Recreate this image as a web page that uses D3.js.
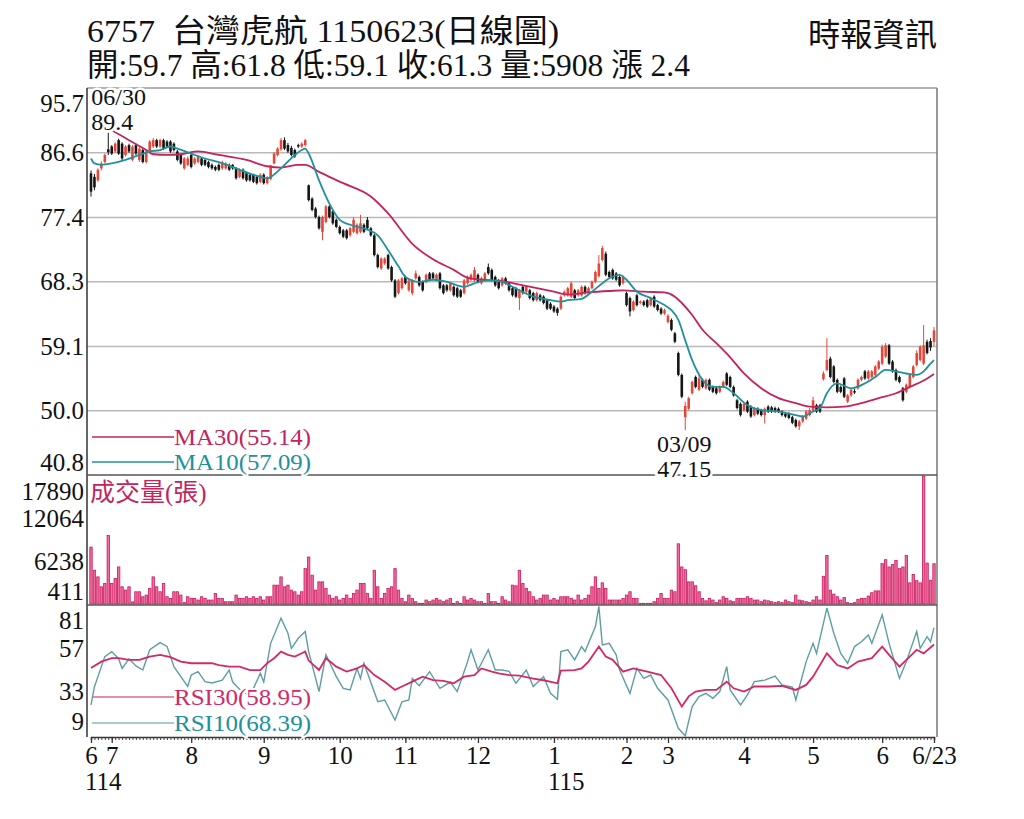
<!DOCTYPE html>
<html>
<head>
<meta charset="utf-8">
<script src="https://cdn.jsdelivr.net/npm/d3@7"></script>
<style>
body { margin: 0; background: #fff; }
text { font-family: "Liberation Serif", "Noto Sans CJK TC", serif; }
</style>
</head>
<body>
<div id="chart"></div>
<script>
// daily candles, 114/06/23 .. 115/06/23  [open, high, low, close]
const candles = [
	[83.6,84.0,80.3,81.0],[83.1,83.5,81.2,81.6],[82.6,84.3,82.4,84.1],[84.3,85.3,84.0,85.0],[85.2,86.4,85.0,86.2],
	[87.0,89.4,86.2,86.6],[87.4,87.6,86.2,86.4],[86.7,88.0,86.5,87.8],[88.3,88.5,86.2,86.4],[87.8,88.0,85.4,85.7],
	[86.2,87.6,86.0,87.4],[87.6,87.8,86.5,86.7],[85.5,87.6,85.3,87.4],[87.6,87.8,86.2,86.4],[85.5,87.3,85.2,87.1],
	[86.9,87.1,85.0,85.2],[85.2,86.9,85.0,86.7],[86.7,88.3,86.5,88.1],[87.4,88.6,87.2,88.3],[88.3,88.5,87.2,87.4],
	[87.4,88.5,87.2,88.3],[88.3,88.5,86.9,87.1],[88.1,88.3,87.2,87.4],[88.1,88.3,86.5,86.7],[87.8,88.0,86.7,86.9],
	[86.7,86.9,85.3,85.5],[86.2,86.4,84.8,85.0],[84.3,85.9,84.1,85.7],[84.8,86.0,84.6,85.7],[86.2,86.4,84.3,84.5],
	[85.0,85.9,84.8,85.7],[85.2,86.2,85.0,86.0],[85.7,85.9,84.6,84.8],[85.5,85.6,84.6,84.8],[85.2,85.4,84.3,84.5],
	[84.8,85.0,84.1,84.3],[84.5,84.7,83.9,84.1],[84.8,85.0,83.9,84.1],[84.3,85.4,84.1,85.2],[84.3,85.2,84.1,85.0],
	[84.8,85.0,83.9,84.1],[84.8,84.9,84.1,84.3],[84.3,84.5,82.7,82.9],[83.1,84.3,82.9,84.1],[84.1,84.3,82.7,82.9],
	[83.6,83.8,82.4,82.6],[83.4,83.6,82.4,82.6],[83.4,83.5,82.2,82.4],[83.1,83.3,82.0,82.2],[82.4,83.6,82.2,83.4],
	[83.4,83.6,82.0,82.2],[82.2,83.2,82.0,83.0],[82.8,84.8,82.6,84.7],[85.0,86.6,84.9,86.4],[86.2,87.3,86.0,87.1],
	[87.0,88.6,86.8,88.3],[88.3,88.7,86.9,87.1],[87.6,87.9,86.5,86.7],[87.2,87.5,86.0,86.2],[86.9,87.1,85.8,86.0],
	[87.6,87.8,87.2,87.4],[87.4,88.0,87.2,87.8],[87.6,88.5,87.4,88.3],[81.9,82.0,79.6,79.8],[80.0,80.2,78.2,78.4],
	[78.6,78.8,77.2,77.4],[77.4,77.6,75.6,75.8],[75.3,77.6,74.1,77.4],[76.7,79.1,76.5,78.9],[78.9,79.1,77.2,77.4],
	[78.2,78.4,76.3,76.5],[77.0,77.2,75.8,76.0],[76.0,76.2,74.9,75.1],[75.5,75.7,74.4,74.6],[75.5,75.7,74.2,74.4],
	[74.8,76.0,74.6,75.8],[75.3,77.4,75.1,77.0],[75.1,76.5,74.9,76.3],[75.3,77.7,75.1,76.5],[76.3,76.5,75.1,75.3],
	[77.0,77.4,75.6,75.8],[75.8,76.0,74.6,74.8],[74.8,75.0,71.8,72.0],[72.0,72.2,70.1,70.3],[70.1,71.7,69.9,71.5],
	[70.8,71.7,70.6,71.5],[72.0,72.2,69.9,70.1],[70.3,70.5,68.2,68.4],[68.4,68.6,65.9,66.1],[66.6,68.6,66.4,68.4],
	[67.3,68.9,67.1,68.7],[68.9,69.1,67.8,68.0],[67.0,68.6,66.8,68.4],[66.6,68.6,66.3,68.4],[68.7,69.8,68.5,69.4],
	[68.9,69.1,67.5,67.7],[68.2,68.4,66.8,67.0],[68.2,69.4,68.0,69.2],[69.4,69.6,68.3,68.5],[69.4,69.6,68.5,68.7],
	[68.5,69.4,68.3,69.2],[69.4,69.6,67.1,67.3],[67.7,67.9,66.4,66.6],[67.7,67.9,66.8,67.0],[67.0,68.2,66.8,68.0],
	[67.5,67.7,66.1,66.3],[67.3,67.5,65.9,66.1],[67.0,67.2,65.9,66.1],[66.6,68.6,66.4,68.4],[68.0,69.1,67.8,68.9],
	[68.5,69.4,68.3,69.2],[68.4,70.3,68.2,69.9],[69.2,69.4,68.0,68.2],[68.0,68.9,67.8,68.7],[68.5,69.6,68.3,69.4],
	[70.3,70.8,69.2,69.4],[69.9,70.1,68.3,68.5],[68.9,69.1,67.5,67.7],[68.4,68.6,67.1,67.3],[67.7,68.9,67.5,68.7],
	[68.7,68.9,67.8,68.0],[68.0,68.2,66.8,67.0],[67.3,67.5,66.1,66.3],[67.3,67.5,65.9,66.1],[65.9,67.2,64.2,67.0],
	[67.5,67.7,66.4,66.6],[66.8,67.7,66.6,67.5],[67.0,67.2,65.7,65.9],[66.6,66.8,65.4,65.6],[65.6,66.8,65.4,66.6],
	[66.3,66.5,65.4,65.6],[66.1,66.3,65.0,65.2],[65.6,65.8,64.2,64.4],[65.1,65.3,64.2,64.4],[64.7,64.9,63.8,64.0],
	[64.4,64.6,63.4,63.8],[64.4,66.3,64.2,66.1],[66.3,67.0,66.1,66.8],[66.3,67.5,66.1,67.3],[66.1,68.2,65.9,68.0],
	[67.0,67.2,65.7,65.9],[66.3,67.2,66.1,67.0],[66.3,67.7,66.1,67.5],[67.5,67.7,66.4,66.6],[66.6,67.5,66.4,67.3],
	[67.3,68.4,67.1,68.2],[68.2,69.8,68.0,69.6],[69.0,72.0,68.8,70.8],[71.3,73.3,71.1,73.0],[72.2,72.5,69.0,69.2],
	[69.6,69.8,68.7,68.9],[69.9,70.1,68.5,68.7],[69.4,69.6,68.3,68.5],[68.9,69.1,67.5,67.7],[68.0,69.1,67.8,68.9],
	[66.6,66.8,64.7,64.9],[65.9,66.1,63.3,64.0],[64.2,65.6,64.0,65.4],[66.3,66.5,64.7,64.9],[65.2,65.6,65.0,65.4],
	[65.4,65.6,64.7,64.9],[65.6,65.8,64.5,64.7],[64.9,66.1,64.7,65.9],[66.1,66.3,64.5,64.7],[64.9,65.1,64.0,64.2],
	[64.4,64.6,63.5,63.7],[63.7,64.4,63.5,64.2],[62.5,63.6,62.3,63.4],[62.8,63.0,61.2,61.4],[60.9,61.1,59.5,59.7],
	[58.1,58.3,54.8,55.0],[55.0,55.2,51.7,51.9],[49.0,51.2,47.15,50.6],[50.2,51.9,50.0,51.7],[52.4,54.2,52.2,54.0],
	[54.7,54.9,53.1,53.3],[52.9,55.0,52.7,54.5],[54.3,54.5,53.1,53.3],[53.1,54.5,52.9,54.3],[54.3,54.5,52.7,52.9],
	[53.3,53.5,52.4,52.6],[53.1,53.3,52.2,52.4],[52.6,53.5,52.4,53.3],[53.3,54.2,53.1,54.0],[55.2,55.4,53.4,53.6],
	[54.7,54.9,53.1,53.3],[53.3,53.5,51.9,52.1],[51.4,51.6,50.1,50.3],[50.9,51.1,49.1,49.3],[50.0,51.1,49.8,50.9],
	[51.2,51.4,49.6,49.8],[50.5,50.7,48.9,49.1],[49.3,50.4,49.1,50.2],[50.2,50.4,49.3,49.5],[50.0,50.2,49.1,49.3],
	[49.3,50.4,48.1,50.2],[50.5,50.7,49.6,49.8],[50.4,50.6,49.6,49.8],[50.3,50.5,49.6,49.8],[50.2,50.4,49.6,49.8],
	[49.8,50.0,49.1,49.3],[49.5,49.7,48.9,49.1],[49.5,49.7,48.7,48.9],[49.0,49.2,48.0,48.2],[48.6,48.8,47.5,47.7],
	[47.7,48.6,47.2,48.4],[48.4,49.3,48.2,49.1],[48.8,50.0,48.6,49.8],[49.3,50.3,49.1,50.0],[50.0,51.9,49.8,51.4],
	[50.7,50.9,49.6,49.8],[50.7,50.9,49.6,49.8],[54.4,55.5,54.2,55.2],[55.7,60.2,55.5,57.1],[57.3,57.6,54.5,54.7],
	[56.2,56.4,53.8,54.0],[54.3,54.5,52.4,52.6],[53.3,53.5,52.4,52.6],[54.5,54.7,51.7,51.9],[51.2,52.3,51.0,52.1],
	[52.1,53.1,51.9,52.9],[52.7,53.0,52.3,52.5],[53.1,54.5,52.9,54.3],[54.3,54.9,54.1,54.7],[55.5,55.7,54.3,54.5],
	[54.5,55.7,54.3,55.5],[54.7,55.7,54.5,55.5],[55.0,56.4,54.8,56.2],[55.9,57.1,55.7,56.9],[56.6,59.3,56.4,59.0],
	[57.6,59.5,57.4,59.2],[59.2,59.4,56.4,56.6],[56.9,57.1,55.3,55.5],[55.7,55.9,54.1,54.3],[54.7,54.9,53.8,54.0],
	[53.1,53.3,51.2,51.4],[52.6,53.8,52.4,53.6],[53.3,55.2,53.1,55.0],[54.7,56.4,54.5,56.2],[56.4,58.5,56.2,58.1],
	[57.1,59.2,56.9,59.0],[56.6,62.1,56.4,59.2],[59.7,60.0,57.9,58.1],[59.8,60.2,58.4,58.9],[59.7,61.8,59.1,61.3]
]

// daily volume (張)
const volumes = [
	8180,5018,4114,2760,3211,9760,3211,3890,5470,2760,
	2308,2760,700,2082,2082,1404,1630,2534,4114,2760,
	2082,3211,1404,1179,2082,2082,1630,600,1404,1179,
	1179,953,1404,1179,953,953,1856,1179,1179,727,
	727,727,1630,1179,1179,1404,1179,1404,1179,1404,
	953,1404,1404,2985,2985,4114,2760,2985,2308,2082,
	1630,2082,5243,6825,4340,2308,3437,3437,2534,1630,
	1179,1404,953,1179,1630,1179,1856,2308,3211,3211,
	1856,1179,5018,2760,1179,1856,2534,2760,5243,2308,
	1179,727,1630,1179,727,500,500,953,727,953,
	1179,953,727,953,1179,500,727,500,1404,953,
	1179,953,727,727,500,1856,727,727,500,1404,
	953,727,2985,2900,5018,3211,2534,2082,1404,953,
	1179,1630,1630,953,1179,953,1404,1404,1404,1179,
	953,1630,953,1179,1630,2760,4114,2534,3300,2534,
	953,953,953,953,1179,1630,2082,1179,1179,500,
	500,500,500,727,1179,1856,1179,1179,2308,2082,
	8630,5470,5100,3437,3437,2900,2082,1179,850,1179,
	953,600,953,1404,1179,850,727,1179,1179,1179,
	1404,1179,953,953,727,953,850,727,600,727,
	600,953,727,600,1630,953,850,727,600,953,
	1404,953,4200,7050,2308,1760,1404,953,1300,600,
	500,600,1050,1179,1179,1500,1950,2200,2200,5921,
	6460,5470,5800,6370,5243,5470,7050,3300,4450,3600,
	3300,17890,6000,3660,5908
]

// moving averages  [day index, value]
const ma30 = [[0,91.2],[6,89.7],[11,88.3],[16,86.9],[18,86.3],[22,86.2],[26,86.3],[31,86.7],[37,86.2],[45,85.5],
	[51,84.6],[55,84.4],[60,84.8],[62,84.8],[66,83.8],[73,82.2],[81,80.3],[86,77.9],[93,73.6],[99,71.4],
	[105,69.9],[109,68.8],[113,68.5],[119,68.3],[124,67.8],[128,67.4],[134,66.8],[138,66.4],[144,66.7],[150,66.9],
	[154,67.0],[160,66.8],[166,66.7],[169,66.1],[171,65.2],[174,63.5],[177,61.4],[181,59.5],[185,57.5],[189,55.2],
	[194,53.1],[199,51.7],[204,51.0],[208,50.5],[213,50.4],[218,50.5],[223,51.0],[228,51.7],[233,52.4],[237,53.3],
	[241,54.2],[244,55.14]]
const ma10 = [[0,85.7],[1,85.0],[3,84.8],[6,85.0],[10,85.5],[14,86.2],[17,86.7],[20,86.9],[23,87.4],[25,87.1],
	[29,86.4],[33,85.7],[37,85.2],[42,84.3],[47,83.4],[51,82.9],[55,84.3],[59,86.2],[61,86.9],[62,87.1],
	[63,86.4],[66,82.6],[69,79.3],[72,77.0],[75,76.3],[80,75.6],[83,74.8],[86,72.7],[89,70.4],[91,68.9],
	[95,68.2],[99,68.5],[103,68.2],[108,67.5],[111,68.0],[115,68.4],[119,68.2],[122,67.5],[128,66.1],[133,65.6],
	[136,65.4],[138,65.6],[142,65.8],[145,66.8],[148,68.0],[150,68.7],[153,69.2],[155,68.5],[158,66.8],[162,65.9],
	[166,64.9],[168,64.2],[170,62.8],[172,59.9],[174,57.1],[177,54.3],[180,53.3],[183,53.3],[186,52.4],[190,50.7],
	[194,50.0],[199,49.8],[204,49.3],[206,49.1],[209,49.8],[211,50.3],[213,52.4],[216,53.8],[220,53.1],[224,53.8],
	[227,54.7],[230,55.7],[233,55.5],[236,55.2],[239,55.0],[241,55.5],[243,56.6],[244,57.09]]

// RSI  [day index, value]
const rsi30 = [[0,45.8],[3,49.4],[6,51.3],[8,51.3],[11,50.4],[14,50.4],[17,52.2],[20,53.2],[23,51.9],[26,49.4],
	[29,48.5],[32,48.5],[35,48.5],[37,47.5],[40,46.6],[43,46.6],[46,44.7],[49,44.7],[51,48.5],[53,51.3],
	[55,55.0],[57,53.2],[59,52.2],[61,54.1],[62,55.0],[63,50.0],[66,44.7],[68,51.3],[71,46.6],[74,43.8],
	[77,45.6],[79,47.5],[82,41.9],[85,38.2],[88,33.6],[90,35.5],[93,38.2],[96,41.0],[99,39.1],[102,38.6],
	[105,37.3],[108,41.0],[111,41.9],[113,45.6],[116,43.8],[118,42.9],[121,41.9],[124,41.6],[128,39.9],[131,39.0],
	[135,37.3],[136,44.4],[140,44.7],[142,45.6],[144,49.4],[147,57.8],[149,52.2],[151,50.4],[154,43.8],[157,45.6],
	[161,43.8],[165,41.9],[168,34.5],[171,24.3],[173,30.0],[175,32.7],[178,33.6],[181,33.6],[184,38.2],[186,34.5],
	[189,32.7],[192,35.5],[196,35.5],[200,35.9],[204,33.6],[207,36.4],[209,41.0],[213,54.0],[216,47.5],[219,45.6],
	[222,49.4],[226,51.3],[229,57.8],[231,53.2],[234,46.6],[236,50.4],[239,56.0],[241,54.0],[244,58.95]]
const rsi10 = [[0,25.2],[1,35.4],[3,46.6],[4,52.2],[6,55.0],[8,51.0],[9,45.6],[11,51.0],[13,47.0],[15,44.7],
	[17,56.0],[20,60.0],[22,57.9],[24,46.6],[26,41.0],[28,35.5],[29,41.9],[31,43.8],[33,38.2],[35,37.5],
	[38,39.0],[40,44.7],[41,38.0],[43,34.0],[46,30.0],[49,42.9],[50,38.0],[52,59.6],[55,73.6],[57,65.2],
	[58,56.8],[60,62.4],[62,66.2],[63,55.0],[66,32.7],[68,53.2],[71,41.0],[73,34.5],[75,33.6],[77,45.6],
	[78,40.0],[79,48.5],[83,27.1],[85,28.0],[88,16.8],[90,27.0],[92,28.0],[93,40.0],[95,36.0],[98,43.8],
	[101,34.5],[104,38.0],[106,32.7],[109,49.4],[110,56.0],[112,44.7],[115,56.0],[117,44.7],[119,44.7],[121,44.0],
	[123,37.3],[126,44.7],[128,35.5],[131,41.0],[133,31.7],[135,28.4],[136,55.0],[138,56.0],[140,50.4],[142,57.8],
	[143,55.0],[146,69.0],[147,80.2],[148,58.7],[150,59.6],[152,53.2],[153,44.7],[156,31.7],[158,45.6],[160,40.0],
	[162,41.9],[164,34.5],[167,28.0],[170,12.2],[172,8.0],[174,24.3],[176,29.9],[178,31.7],[180,28.9],[182,32.7],
	[184,46.6],[185,33.6],[188,25.2],[190,30.8],[192,38.2],[195,39.1],[198,41.3],[200,36.4],[203,35.2],[204,28.0],
	[207,49.4],[209,59.6],[210,54.0],[213,79.3],[215,65.2],[217,54.0],[219,48.5],[221,57.8],[223,60.5],[225,64.3],
	[226,59.6],[229,75.5],[231,59.6],[234,40.0],[236,49.4],[239,66.2],[240,56.8],[242,63.3],[243,60.5],[244,68.39]]

// axis ticks and labels
const priceTicks = [40.8, 50.0, 59.1, 68.3, 77.4, 86.6, 95.7]
const volTicks = [411, 6238, 12064, 17890]
const rsiTicks = [9, 33, 57, 81]
const monthIdx = [0, 6, 29, 50, 72, 91, 112, 134, 155, 167, 189, 209, 229, 244]
const monthLabels = ["6", "7", "8", "9", "10", "11", "12", "1", "2", "3", "4", "5", "6", "6/23"]
const yearIdx = [0, 134]
const yearLabels = ["114", "115"]

const PLOT = { LEFT: 87, RIGHT: 937, TOP: 88, PRICE: 475, VOL: 605, RSI: 737 }
const RED = "#e2473a"
const BLACK = "#151515"
const CRIMSON = "#c2245e"
const TEAL = "#23909b"

const svg = d3.select("#chart").append("svg")
	.attr("width", 1024)
	.attr("height", 819)

// scales
const x = d3.scaleLinear().domain([0, candles.length - 1]).range([91, 934])
const yPrice = d3.scaleLinear().domain([40.8, 95.7]).range([PLOT.PRICE, PLOT.TOP])
const yVol = d3.scaleLinear().domain([411, 17890]).range([604, 476])
const yRsi = d3.scaleLinear().domain([9, 81]).range([734, 605])

// price gridlines
svg.append("g")
	.attr("transform", `translate(${PLOT.LEFT},0)`)
	.call(d3.axisLeft(yPrice).tickValues(priceTicks.slice(1, -1)).tickSize(-(PLOT.RIGHT - PLOT.LEFT)).tickFormat(""))
	.call(g => g.select(".domain").remove())
	.call(g => g.selectAll("line").attr("stroke", "#b9b9b9").attr("stroke-width", 1.5))

// candles
const candle = svg.append("g").selectAll("g")
	.data(candles)
	.join("g")
	.attr("stroke", d => d[3] >= d[0] ? RED : BLACK)
	.attr("fill", d => d[3] >= d[0] ? RED : BLACK)
candle.append("line")
	.attr("x1", (d, i) => x(i)).attr("x2", (d, i) => x(i))
	.attr("y1", d => yPrice(d[1])).attr("y2", d => yPrice(d[2]))
	.attr("stroke-width", 1)
candle.append("rect")
	.attr("x", (d, i) => x(i) - 1.3)
	.attr("width", 2.6)
	.attr("y", d => yPrice(Math.max(d[0], d[3])))
	.attr("height", d => Math.max(1, Math.abs(yPrice(d[0]) - yPrice(d[3]))))
	.attr("stroke", "none")

// moving averages
const priceLine = d3.line().x(d => x(d[0])).y(d => yPrice(d[1])).curve(d3.curveMonotoneX)
svg.append("path").attr("d", priceLine(ma30))
	.attr("fill", "none").attr("stroke", CRIMSON).attr("stroke-width", 1.8)
svg.append("path").attr("d", priceLine(ma10))
	.attr("fill", "none").attr("stroke", TEAL).attr("stroke-width", 1.8)

// volume bars
svg.append("g").selectAll("rect")
	.data(volumes)
	.join("rect")
	.attr("x", (d, i) => x(i) - 1.2)
	.attr("width", 2.4)
	.attr("y", d => yVol(d))
	.attr("height", d => 604 - yVol(d))
	.attr("fill", "#ef6b9f")
	.attr("stroke", "#c81c5e")
	.attr("stroke-width", 0.8)

// rsi lines
const rsiLine = d3.line().x(d => x(d[0])).y(d => yRsi(d[1]))
svg.append("path").attr("d", rsiLine(rsi10))
	.attr("fill", "none").attr("stroke", "#5e9ea2").attr("stroke-width", 1.4)
svg.append("path").attr("d", rsiLine(rsi30))
	.attr("fill", "none").attr("stroke", "#d22a66").attr("stroke-width", 1.8)

// frame
const frame = svg.append("g").attr("fill", "none")
frame.append("line").attr("x1", PLOT.LEFT).attr("x2", PLOT.RIGHT).attr("y1", PLOT.TOP).attr("y2", PLOT.TOP)
	.attr("stroke", "#999").attr("stroke-width", 1.5)
frame.append("line").attr("x1", PLOT.RIGHT).attr("x2", PLOT.RIGHT).attr("y1", PLOT.TOP).attr("y2", PLOT.RSI)
	.attr("stroke", "#777").attr("stroke-width", 1.5)
frame.append("line").attr("x1", PLOT.LEFT).attr("x2", PLOT.LEFT).attr("y1", PLOT.TOP).attr("y2", PLOT.RSI)
	.attr("stroke", "#333").attr("stroke-width", 1.5)
;[PLOT.PRICE, PLOT.VOL].forEach(yy => {
	frame.append("line").attr("x1", PLOT.LEFT).attr("x2", PLOT.RIGHT).attr("y1", yy).attr("y2", yy)
		.attr("stroke", "#555").attr("stroke-width", 1.5)
})

// left axes
function leftAxis(scale, ticks, fmt) {
	const last = ticks.length - 1
	svg.append("g")
		.attr("transform", `translate(${PLOT.LEFT - 1},0)`)
		.call(d3.axisLeft(scale).tickValues(ticks).tickSize(0).tickPadding(2).tickFormat(fmt))
		.call(g => g.select(".domain").remove())
		.call(g => g.selectAll("text")
			.attr("font-size", 25)
			.attr("fill", "#111")
			.attr("dy", (d, i) => i === 0 ? -5 : i === last ? 23 : 8))
}
leftAxis(yPrice, priceTicks, d => d.toFixed(1))
leftAxis(yVol, volTicks, d => d)
leftAxis(yRsi, rsiTicks, d => d)

// bottom axis: a tick for every day, longer ones at month starts
svg.append("g")
	.attr("transform", `translate(0,${PLOT.RSI})`)
	.call(d3.axisBottom(x).tickValues(d3.range(candles.length)).tickSize(3).tickFormat(""))
	.call(g => g.select(".domain").attr("stroke", "#333").attr("stroke-width", 1.5))
	.call(g => g.selectAll("line").attr("stroke", "#444"))
svg.append("g")
	.attr("transform", `translate(0,${PLOT.RSI})`)
	.call(d3.axisBottom(x).tickValues(monthIdx).tickSize(6).tickPadding(3).tickFormat((d, i) => monthLabels[i]))
	.call(g => g.select(".domain").remove())
	.call(g => g.selectAll("line").attr("stroke", "#333").attr("stroke-width", 1.3))
	.call(g => g.selectAll("text").attr("font-size", 25).attr("fill", "#111"))
svg.append("g").selectAll("text")
	.data(yearIdx)
	.join("text")
	.attr("x", d => x(d) - 6)
	.attr("y", 790)
	.attr("font-size", 25)
	.attr("fill", "#111")
	.text((d, i) => yearLabels[i])

// legends
function legend(y, color, lineColor, label) {
	svg.append("line").attr("x1", 92).attr("x2", 174).attr("y1", y).attr("y2", y)
		.attr("stroke", lineColor).attr("stroke-width", 1.3)
	svg.append("text")
		.attr("x", 174).attr("y", y + 8)
		.attr("font-size", 23)
		.attr("textLength", 137).attr("lengthAdjust", "spacingAndGlyphs")
		.attr("fill", color)
		.attr("stroke", "#fff").attr("stroke-width", 4).attr("paint-order", "stroke")
		.text(label)
}
legend(437, CRIMSON, CRIMSON, "MA30(55.14)")
legend(462, TEAL, TEAL, "MA10(57.09)")
legend(697, "#d22a66", "#d86a92", "RSI30(58.95)")
legend(723, "#23909b", "#8dbabc", "RSI10(68.39)")

svg.append("text")
	.attr("x", 90).attr("y", 501)
	.attr("font-size", 25)
	.attr("fill", CRIMSON)
	.text("成交量(張)")

// high / low notes
function note(xx, yy, anchor, lines) {
	const t = svg.append("text")
		.attr("x", xx).attr("y", yy)
		.attr("font-size", 24)
		.attr("fill", "#111")
		.attr("text-anchor", anchor)
		.attr("stroke", "#fff").attr("stroke-width", 5).attr("paint-order", "stroke")
	lines.forEach((s, i) => t.append("tspan").attr("x", xx).attr("dy", i === 0 ? 0 : 25).text(s))
}
note(x(5) - 17, 105, "start", ["06/30", "89.4"])
note(x(172) - 1, 452, "middle", ["03/09", "47.15"])

// header
svg.append("text")
	.attr("x", 87).attr("y", 42)
	.attr("font-size", 32)
	.attr("fill", "#111")
	.attr("textLength", 472).attr("lengthAdjust", "spacingAndGlyphs")
	.text("6757\u00a0\u00a0台灣虎航 1150623(日線圖)")
svg.append("text")
	.attr("x", 87).attr("y", 76)
	.attr("font-size", 32)
	.attr("fill", "#111")
	.attr("textLength", 603).attr("lengthAdjust", "spacingAndGlyphs")
	.text("開:59.7 高:61.8 低:59.1 收:61.3 量:5908 漲 2.4")
svg.append("text")
	.attr("x", 808).attr("y", 46)
	.attr("font-size", 32)
	.attr("fill", "#111")
	.attr("textLength", 129).attr("lengthAdjust", "spacingAndGlyphs")
	.text("時報資訊")
</script>
</body>
</html>
